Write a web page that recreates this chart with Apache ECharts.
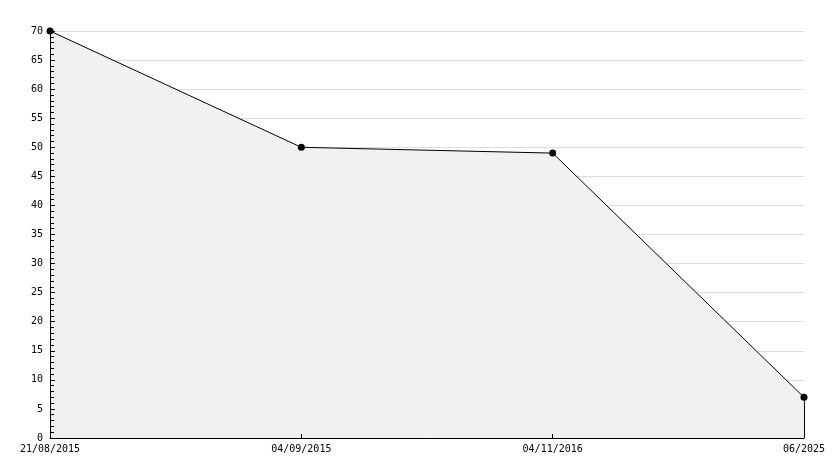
<!DOCTYPE html>
<html><head><meta charset="utf-8">
<script src="https://cdn.jsdelivr.net/npm/echarts@6/dist/echarts.min.js"></script>
<style>html,body{margin:0;padding:0;background:#fff}#c{width:834px;height:468px}</style>
</head><body><div id="c"></div>
<script>
const categories = ['21/08/2015', '04/09/2015', '04/11/2016', '06/2025'];
const values = [70, 50, 49, 7];
const yMin = 0, yMax = 70, yInterval = 5;

const font = 'DejaVu Sans Mono';
const chart = echarts.init(document.getElementById('c'), null, {renderer: 'canvas'});
const last = categories.length - 1;
chart.setOption({
  animation: false,
  backgroundColor: '#ffffff',
  grid: {left: 50, right: 30, top: 31, bottom: 30, containLabel: false},
  xAxis: {
    type: 'category', data: categories, boundaryGap: false, z: 10,
    axisLine: {lineStyle: {color: '#000', width: 1}},
    axisTick: {inside: true, length: 4, lineStyle: {color: '#000'}},
    axisLabel: {color: '#000', fontFamily: font, fontSize: 10, margin: 6, showMinLabel: true, showMaxLabel: true, interval: 0},
    splitLine: {show: false}
  },
  yAxis: [{
    type: 'value', min: yMin, max: yMax, interval: yInterval, z: 0, position: 'left',
    axisLine: {show: false},
    axisTick: {show: false},
    axisLabel: {color: '#000', fontFamily: font, fontSize: 10, margin: 7},
    splitLine: {show: true, lineStyle: {color: '#dddddd', width: 1}}
  }, {
    type: 'value', min: yMin, max: yMax, interval: yInterval, z: 10, position: 'left', offset: 0,
    axisLine: {show: true, lineStyle: {color: '#000', width: 1}},
    axisTick: {show: true, inside: true, length: 5, lineStyle: {color: '#000'}},
    minorTick: {show: true, splitNumber: 5, length: 4, lineStyle: {color: '#000'}},
    axisLabel: {show: false},
    splitLine: {show: false}
  }],
  series: [{
    type: 'line', data: values, z: 5, yAxisIndex: 0,
    symbol: 'circle', symbolSize: 7,
    itemStyle: {color: '#000'},
    lineStyle: {color: '#000', width: 1},
    areaStyle: {color: '#f1f1f1', opacity: 1},
    markLine: {
      silent: true, symbol: 'none', label: {show: false},
      lineStyle: {color: '#000', width: 1, type: 'solid'},
      data: [[{coord: [categories[last], values[last]]}, {coord: [categories[last], yMin]}]]
    }
  }]
});
</script></body></html>
